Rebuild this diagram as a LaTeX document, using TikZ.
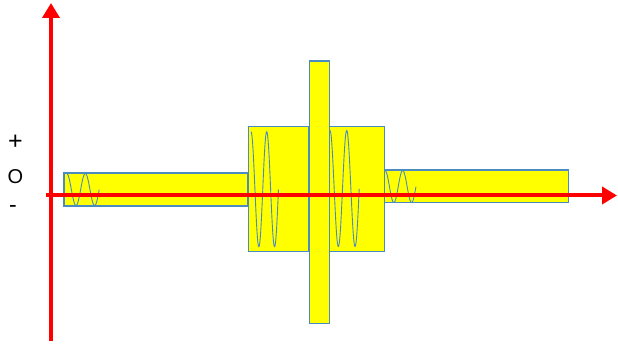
\documentclass[tikz,border=0pt]{standalone}
\usepackage{fontspec}
\setmainfont{Liberation Sans}
\usetikzlibrary{arrows.meta}
\definecolor{boxblue}{HTML}{4A8CC2}
\definecolor{yel}{RGB}{255,255,0}
\definecolor{axred}{RGB}{255,0,0}
\begin{document}
\begin{tikzpicture}[x=1pt,y=-1pt,
  block/.style={fill=yel, draw=boxblue, line width=1.2pt},
  wave/.style={draw=boxblue, line width=0.9pt},
  axis/.style={draw=axred, line width=4pt, -{Triangle[length=15pt,width=17pt]}},
  sign/.style={inner sep=0pt, font=\fontsize{20}{24}\selectfont}]
\useasboundingbox (0,0) rectangle (618,344);
% blocks
\draw[block] (64,173) rectangle (248,206);
\draw[block] (384,170) rectangle (568.7,202.7);
\draw[block] (248.3,126.7) rectangle (309,251.7);
\draw[block] (329.3,126.7) rectangle (384.3,251.7);
\draw[block] (309.7,61) rectangle (329.3,323.3);
% waves
\draw[wave] plot[domain=0:1.75, samples=90, smooth] ({66.7+18.6*\x},{189.5-16*cos(360*\x)});
\draw[wave] plot[domain=0:1.75, samples=90, smooth] ({251+15.7*\x},{189.2-57.5*cos(360*\x)});
\draw[wave] plot[domain=0:1.75, samples=90, smooth] ({330+16.7*\x},{188.5-58*cos(360*\x)});
\draw[wave] plot[domain=0:1.75, samples=90, smooth] ({385+17.7*\x},{186.5-16*cos(360*\x)});
% axes
\coordinate (vb) at (51,341);
\coordinate (vt) at (51,3);
\coordinate (hl) at (46,195.5);
\coordinate (hr) at (617,195.5);
\draw[axis] (vb) -- (vt);
\draw[axis] (hl) -- (hr);
% labels
\node[sign, font=\fontsize{25}{28}\selectfont] (plus) at (15.5,142.5) {+};
\node[sign] (zero) at (15.5,177) {O};
\node[sign, font=\fontsize{23}{26}\selectfont] (minus) at (13,208.5) {-};
\end{tikzpicture}
\end{document}
